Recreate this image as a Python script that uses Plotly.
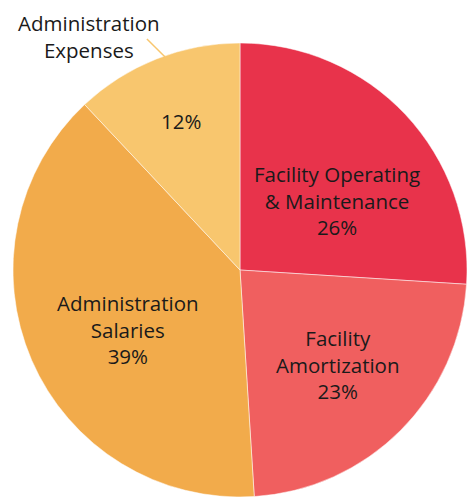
import plotly.graph_objects as go

# Data
labels = ['Facility Operating<br>& Maintenance', 'Facility<br>Amortization',
          'Administration<br>Salaries', 'Administration<br>Expenses']
values = [26, 23, 39, 12]
colors = ['#E8334B', '#F05F5F', '#F2AB4B', '#F8C66E']

# where each slice's text sits (paper coords); last slice gets only its percent inside
label_pos = [(0.714, 0.654), (0.716, 0.292), (0.253, 0.368), (0.370, 0.828)]

FONT = dict(family='Open Sans', size=20.5, color='#1a1a1a')

fig = go.Figure(go.Pie(
    labels=labels,
    values=values,
    sort=False,
    direction='clockwise',
    rotation=0,
    marker=dict(colors=colors, line=dict(color='white', width=0.5)),
    textinfo='none',
    showlegend=False,
    hoverinfo='label+percent',
))

total = sum(values)
for i, (lab, val) in enumerate(zip(labels, values)):
    pct = f"{round(val / total * 100)}%"
    txt = pct if i == 3 else f"{lab}<br>{pct}"
    fig.add_annotation(
        text=txt, xref='paper', yref='paper', x=label_pos[i][0], y=label_pos[i][1],
        xanchor='center', yanchor='middle', showarrow=False, align='center',
        font=FONT,
    )

# outside label for the small slice
fig.add_annotation(
    text=labels[3], xref='paper', yref='paper', x=0.167, y=1.015,
    xanchor='center', yanchor='middle', showarrow=False, align='center',
    font=FONT,
)
# leader line
fig.add_shape(type='line', xref='paper', yref='paper',
              x0=0.295, y0=1.009, x1=0.335, y1=0.969,
              line=dict(color='#F8C66E', width=1.5))

fig.update_layout(
    width=476,
    height=498,
    margin=dict(l=5, r=17, t=35, b=9),
    paper_bgcolor='white',
    plot_bgcolor='white',
    font=FONT,
)

fig.write_html('out.html')
